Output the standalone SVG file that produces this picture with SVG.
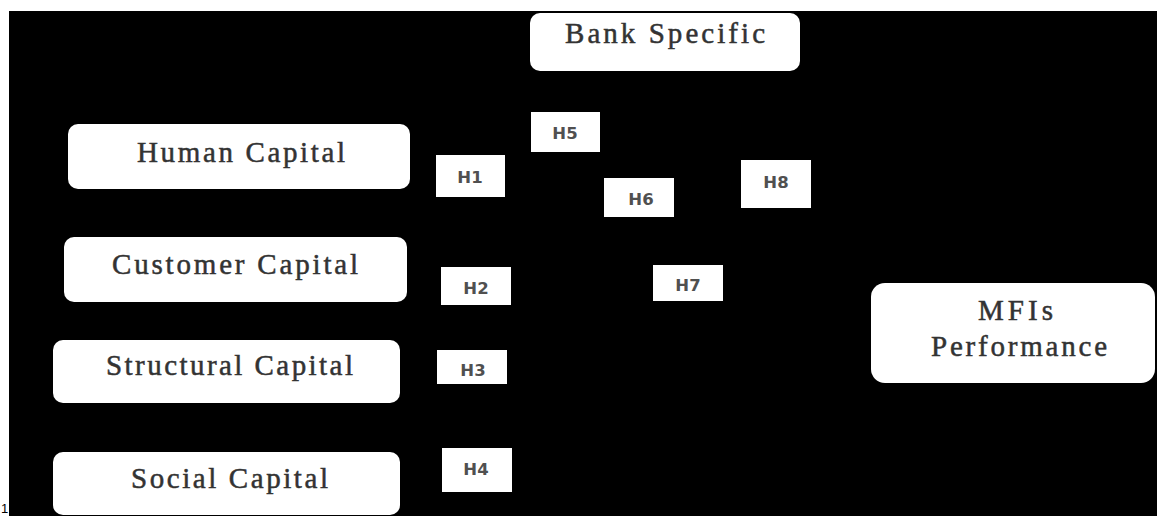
<svg xmlns="http://www.w3.org/2000/svg" width="1157" height="516" viewBox="0 0 1157 516">
  <style>
    .cap { fill: #ffffff; }
    .hyp { fill: #ffffff; }
    .ct { font-family: "Liberation Serif", "Times New Roman", serif; font-size: 29px; fill: #333333; stroke: #333333; stroke-width: 0.5; }
    .ht { font-family: "DejaVu Sans", "Liberation Sans", sans-serif; font-size: 16.5px; font-weight: bold; fill: #505050; text-anchor: middle; }
    .conn { stroke: #000000; stroke-width: 2; fill: none; }
  </style>
  <rect x="0" y="0" width="1157" height="516" fill="#ffffff"/>
  <rect x="9" y="11" width="1148" height="505" fill="#000000"/>
  <text x="1" y="513" font-family="Liberation Sans, sans-serif" font-size="13" fill="#000000">1</text>

  <g id="connectors">
    <line class="conn" x1="693" y1="67" x2="693" y2="110"/>
    <line class="conn" x1="830" y1="340" x2="873" y2="340"/>
  </g>

  <g id="bank-specific">
    <rect class="cap" x="530" y="13" width="270" height="58" rx="10"/>
    <text class="ct" x="565" y="43" textLength="200" lengthAdjust="spacing">Bank Specific</text>
  </g>
  <g id="human-capital">
    <rect class="cap" x="68" y="124" width="342" height="65" rx="10"/>
    <text class="ct" x="137" y="162" textLength="208" lengthAdjust="spacing">Human Capital</text>
  </g>
  <g id="customer-capital">
    <rect class="cap" x="64" y="237" width="343" height="65" rx="10"/>
    <text class="ct" x="112" y="274" textLength="246" lengthAdjust="spacing">Customer Capital</text>
  </g>
  <g id="structural-capital">
    <rect class="cap" x="53" y="340" width="347" height="63" rx="10"/>
    <text class="ct" x="106" y="375" textLength="247" lengthAdjust="spacing">Structural Capital</text>
  </g>
  <g id="social-capital">
    <rect class="cap" x="53" y="452" width="347" height="63" rx="10"/>
    <text class="ct" x="131" y="488" textLength="197" lengthAdjust="spacing">Social Capital</text>
  </g>
  <g id="mfis-performance">
    <rect class="cap" x="871" y="283" width="284" height="100" rx="14"/>
    <text class="ct" x="978" y="320" textLength="75" lengthAdjust="spacing">MFIs</text>
    <text class="ct" x="931" y="356" textLength="176" lengthAdjust="spacing">Performance</text>
  </g>

  <g id="h1">
    <rect class="hyp" x="436" y="155" width="69" height="42"/>
    <text class="ht" x="470" y="183">H1</text>
  </g>
  <g id="h2">
    <rect class="hyp" x="441" y="267" width="70" height="38"/>
    <text class="ht" x="476" y="294">H2</text>
  </g>
  <g id="h3">
    <rect class="hyp" x="437" y="350" width="70" height="34"/>
    <text class="ht" x="473" y="376">H3</text>
  </g>
  <g id="h4">
    <rect class="hyp" x="442" y="448" width="70" height="44"/>
    <text class="ht" x="476" y="475">H4</text>
  </g>
  <g id="h5">
    <rect class="hyp" x="531" y="112" width="69" height="40"/>
    <text class="ht" x="565" y="139">H5</text>
  </g>
  <g id="h6">
    <rect class="hyp" x="604" y="178" width="70" height="39"/>
    <text class="ht" x="641" y="205">H6</text>
  </g>
  <g id="h7">
    <rect class="hyp" x="653" y="265" width="70" height="36"/>
    <text class="ht" x="688" y="291">H7</text>
  </g>
  <g id="h8">
    <rect class="hyp" x="741" y="160" width="70" height="48"/>
    <text class="ht" x="776" y="188">H8</text>
  </g>
</svg>
